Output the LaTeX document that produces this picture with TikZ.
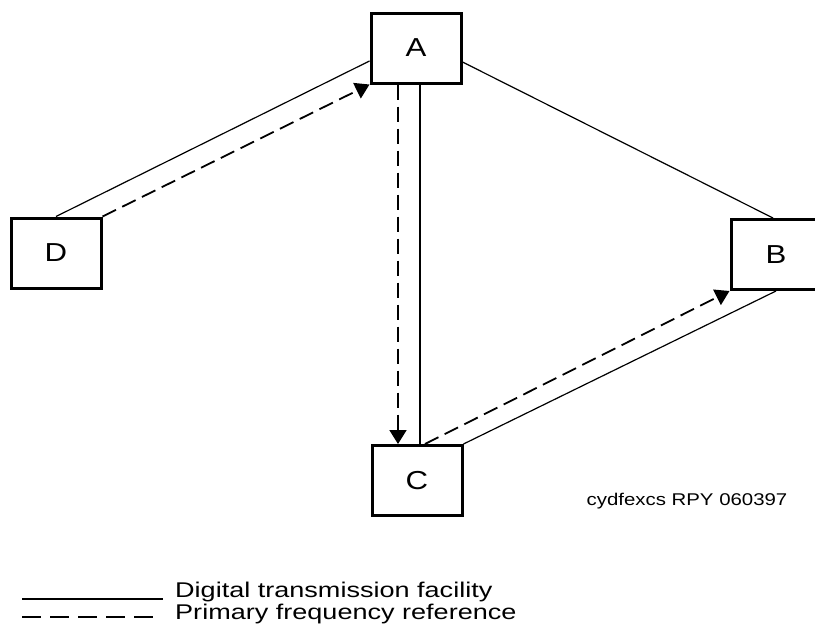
\documentclass[tikz,border=0pt]{standalone}
\usepackage{fontspec}
\setmainfont{Liberation Sans}[FakeStretch=1.2]
\newfontfamily\legendfont{Liberation Sans}[FakeStretch=1.27]
\usetikzlibrary{arrows.meta}
\begin{document}
\begin{tikzpicture}[x=1pt,y=-1pt,
  box/.style={draw,line width=3pt,minimum width=90pt,minimum height=70pt,inner sep=0pt,font=\fontsize{26}{28}\selectfont},
  facility/.style={line width=1.2pt},
  reference/.style={line width=1.8pt,dash pattern=on 15pt off 7pt},
  tip/.style={-{Triangle[length=14pt,width=17pt]}},
  legendtext/.style={anchor=base west,inner sep=0pt,font=\legendfont\fontsize{21.3}{24}\selectfont}]
\useasboundingbox (0,0) rectangle (815,624);
\node[box] (A) at (416,48) {A};
\node[box] (D) at (56,253) {D};
\node[box] (B) at (776,254.5) {B};
\node[box] (C) at (417,480.5) {C};
% facilities
\draw[facility] (D.north) -- ([yshift=-13pt]A.west);
\draw[facility] ([yshift=-14pt]A.east) -- ([xshift=-3pt]B.north);
\draw[facility] ([xshift=4pt]A.south) -- ([xshift=4pt]A.south |- C.north);
\draw[facility] (C.north east) -- (B.south);
% references
\draw[reference,tip] (D.north east) -- (A.south west);
\draw[reference,tip] ([xshift=-18pt]A.south) -- ([xshift=-18pt]A.south |- C.north);
\draw[reference,tip] ([xshift=8pt]C.north) -- (B.south west);
% code label
\node[inner sep=0pt,font=\fontsize{17}{19}\selectfont] (code) at (687,501) {cydfexcs RPY 060397};
% legend
\coordinate (l1a) at (22,599);
\coordinate (l1b) at (163,599);
\coordinate (l2a) at (22,617);
\coordinate (l2b) at (160,617);
\draw[facility] (l1a) -- (l1b);
\draw[line width=2pt,dash pattern=on 19pt off 9pt] (l2a) -- (l2b);
\node[legendtext] (t1) at (175,597) {Digital transmission facility};
\node[legendtext] (t2) at (175,619) {Primary frequency reference};
\end{tikzpicture}
\end{document}
